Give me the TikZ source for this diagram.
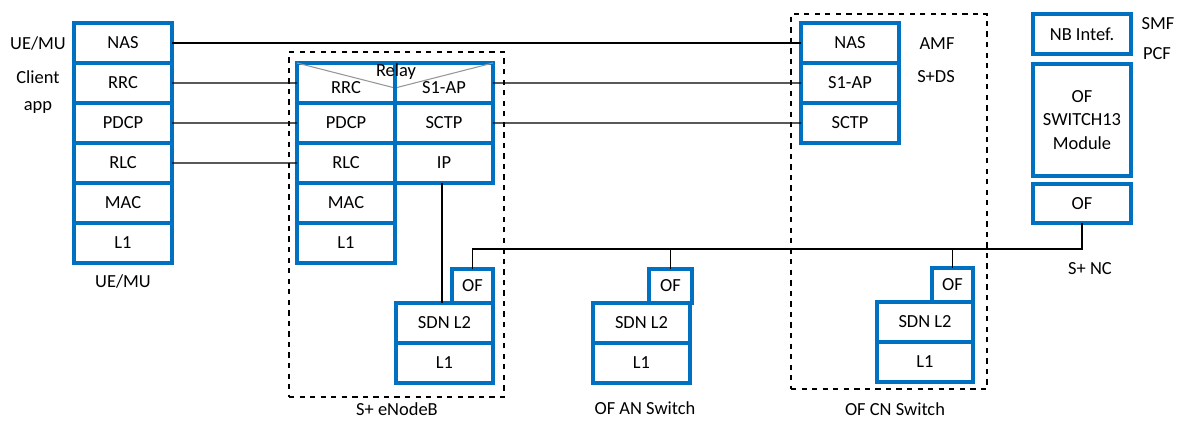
\documentclass[tikz,border=0pt]{standalone}
\usepackage{fontspec}
\setmainfont{Carlito}
\usepackage{tikz}
\usetikzlibrary{positioning}
\definecolor{stackB}{RGB}{0,112,192}
\definecolor{relayG}{RGB}{150,150,150}

\begin{document}
\begin{tikzpicture}[x=0.02cm, y=-0.02cm, font=\fontsize{10.5}{13.5}\selectfont,
  cell/.style={rectangle, draw=stackB, line width=1.8pt, inner sep=0pt, outer sep=0pt,
               fill=white, align=center},
  layer/.style={cell, minimum width=1.96cm, minimum height=0.8cm},
  ofbox/.style={cell, minimum width=0.82cm, minimum height=0.68cm},
  group/.style={rectangle, draw, dashed, line width=0.7pt, minimum width=#1},
  lbl/.style={inner sep=1pt},
  link/.style={line width=0.7pt}]
  \useasboundingbox (0,0) rectangle (1180,423);

  % dashed groups
  \node[group=4.3cm, minimum height=6.9cm] (enb) at (396.5,224.5) {};
  \node[group=3.92cm, minimum height=7.5cm] (cn) at (889,201.5) {};

  % UE/MU stack
  \node[layer] (uenas) at (123,43) {NAS};
  \node[layer, below=0pt of uenas] (uerrc) {RRC};
  \node[layer, below=0pt of uerrc] (uepdcp) {PDCP};
  \node[layer, below=0pt of uepdcp] (uerlc) {RLC};
  \node[layer, below=0pt of uerlc] (uemac) {MAC};
  \node[layer, below=0pt of uemac] (uel1) {L1};
  \node[lbl] (uename) at (38,43) {UE/MU};
  \node[lbl] (uecli) at (38,77) {Client};
  \node[lbl] (ueapp) at (38,108) {app};
  \node[lbl] (uelbl) at (123,281) {UE/MU};

  % S+ eNodeB
  \node[layer, label={[yshift=-2.8pt]center:RRC}] (errc) at (346,83) {};
  \node[layer, below=0pt of errc] (epdcp) {PDCP};
  \node[layer, below=0pt of epdcp] (erlc) {RLC};
  \node[layer, below=0pt of erlc] (emac) {MAC};
  \node[layer, below=0pt of emac] (el1) {L1};
  \node[layer, right=0pt of errc, label={[yshift=-2.8pt]center:S1-AP}] (es1ap) {};
  \node[layer, below=0pt of es1ap] (esctp) {SCTP};
  \node[layer, below=0pt of esctp] (eip) {IP};
  \coordinate (relay) at (395,88);
  \draw[relayG, line width=0.6pt] (errc.north west) -- (relay) -- (es1ap.north east);
  \draw[stackB, line width=1.8pt] (errc.north east) -- (errc.south east);
  \node[lbl] (relaytxt) at (396,72) {Relay};
  \node[layer, minimum width=1.94cm] (esdn) at (444.5,323) {SDN L2};
  \node[layer, minimum width=1.94cm, below=0pt of esdn] (esl1) {L1};
  \node[ofbox, anchor=south east] (eof) at (esdn.north east) {OF};
  \node[lbl] (enblbl) at (397,409) {S+ eNodeB};

  % OF AN Switch
  \node[layer, minimum width=1.94cm] (asdn) at (641.5,323) {SDN L2};
  \node[layer, minimum width=1.94cm, below=0pt of asdn] (al1) {L1};
  \node[ofbox, minimum width=0.86cm] (aof) at (670.5,286) {OF};
  \node[lbl] (anlbl) at (645,408) {OF AN Switch};

  % OF CN Switch
  \node[layer] (cnnas) at (850,43) {NAS};
  \node[layer, below=0pt of cnnas] (cns1ap) {S1-AP};
  \node[layer, below=0pt of cns1ap] (cnsctp) {SCTP};
  \node[lbl] (amf) at (937,44) {AMF};
  \node[lbl] (sds) at (936,77) {S+DS};
  \node[layer, minimum width=1.92cm] (csdn) at (925,322) {SDN L2};
  \node[layer, minimum width=1.92cm, below=0pt of csdn] (cl1) {L1};
  \node[ofbox, anchor=south east] (cof) at (csdn.north east) {OF};
  \node[lbl] (cnlbl) at (895,409) {OF CN Switch};

  % S+ NC
  \node[layer] (nb) at (1082,34) {NB Intef.};
  \node[layer, minimum height=2.24cm] (ofmod) at (1082,120) {OF\\SWITCH13\\Module};
  \node[layer, minimum height=0.78cm] (ncof) at (1082,203.5) {OF};
  \node[lbl] (smf) at (1158,24) {SMF};
  \node[lbl] (pcf) at (1157,54) {PCF};
  \node[lbl] (nclbl) at (1090,269) {S+ NC};

  % peer links
  \draw[link] (uenas.east) -- (cnnas.west);
  \draw[link] (uerrc.east) -- (errc.west);
  \draw[link] (uepdcp.east) -- (epdcp.west);
  \draw[link] (uerlc.east) -- (erlc.west);
  \draw[link] (es1ap.east) -- (cns1ap.west);
  \draw[link] (esctp.east) -- (cnsctp.west);
  \draw[link] (eip.south -| 442,0) -- (442,0 |- esdn.north);

  % OpenFlow bus
  \coordinate (bus) at (0,249);
  \draw[link] (eof.north) |- (bus -| ncof.south) -- (ncof.south);
  \draw[link] (aof.north) -- (aof.north |- bus);
  \draw[link] (cof.north) -- (cof.north |- bus);
\end{tikzpicture}
\end{document}
